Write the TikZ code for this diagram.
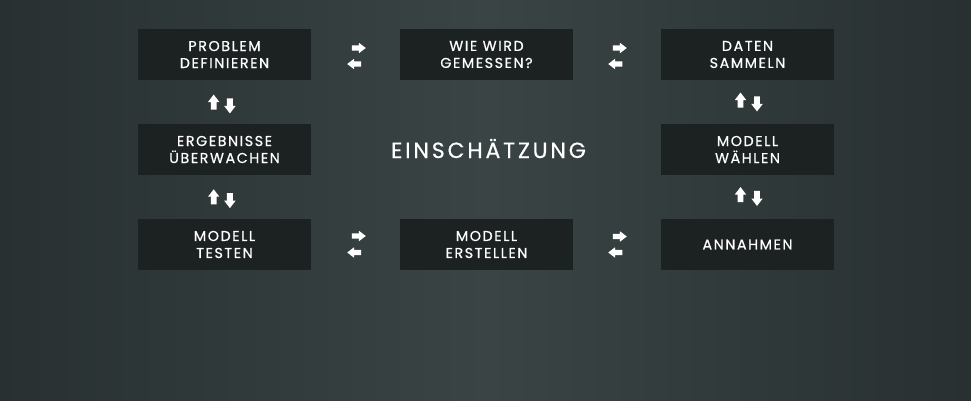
\documentclass[tikz,border=0pt]{standalone}
\usepackage{fontspec}
\setmainfont{Poppins}
\newfontfamily\gotham[BoldFont=Poppins,BoldFeatures={FakeBold=0.6},LetterSpace=11]{Poppins}
\newfontfamily\gothamtitel[BoldFont=Poppins,BoldFeatures={FakeBold=0.4},LetterSpace=13]{Poppins}
\usetikzlibrary{shapes.arrows}
\definecolor{bgside}{HTML}{283031}
\definecolor{bgmid}{HTML}{3A4445}
\definecolor{boxfill}{HTML}{1C2122}
\tikzset{
	stage/.style={fill=boxfill,minimum width=173pt,minimum height=51pt,inner sep=0pt,
		text=white,align=center,font=\gotham\bfseries\fontsize{14.3}{17}\selectfont},
	blk/.style={single arrow,fill=white,draw=none,inner xsep=0pt,text height=0pt,text depth=0pt,
		single arrow tip angle=75,single arrow head indent=0pt},
	harr/.style={blk,inner ysep=2.5pt,single arrow head extend=2.5pt,minimum height=14pt},
	varr/.style={blk,inner ysep=2.75pt,single arrow head extend=2.75pt,minimum height=15pt}
}
\begin{document}
\begin{tikzpicture}[x=1pt,y=-1pt]
		\useasboundingbox (0,0) rectangle (971,400);
		\shade[left color=bgside,right color=bgside,middle color=bgmid] (0,0) rectangle (971,400);
		% stages
		\node[stage] (prob) at (224.5,54.5) {PROBLEM\\DEFINIEREN};
		\node[stage] (mess) at (486.5,54.5) {WIE WIRD\\GEMESSEN?};
		\node[stage] (daten) at (747.5,54.5) {DATEN\\SAMMELN};
		\node[stage] (ueberw) at (224.5,149.5) {ERGEBNISSE\\ÜBERWACHEN};
		\node[stage] (wahl) at (747.5,149.5) {MODELL\\WÄHLEN};
		\node[stage] (test) at (224.5,244.5) {MODELL\\TESTEN};
		\node[stage] (erst) at (486.5,244.5) {MODELL\\ERSTELLEN};
		\node[stage] (annahm) at (747.5,244.5) {ANNAHMEN};
		\node[text=white,font=\gothamtitel\bfseries\fontsize{22}{24}\selectfont] (titel) at (488.5,148.5) {EINSCHÄTZUNG};
		% horizontal arrows
		\node[harr] (r1) at (357,48) {};
		\node[harr,rotate=180] (l1) at (356,64) {};
		\node[harr] (r2) at (618,48) {};
		\node[harr,rotate=180] (l2) at (617,64) {};
		\node[harr] (r3) at (357,236) {};
		\node[harr,rotate=180] (l3) at (356,252.5) {};
		\node[harr] (r4) at (618,236.5) {};
		\node[harr,rotate=180] (l4) at (617,252.5) {};
		% vertical arrows
		\node[varr,rotate=90] (u1) at (213.7,104) {};
		\node[varr,rotate=-90] (d1) at (229.9,104) {};
		\node[varr,rotate=90] (u2) at (213.7,198.7) {};
		\node[varr,rotate=-90] (d2) at (229.9,198.7) {};
		\node[varr,rotate=90] (u3) at (740.5,102) {};
		\node[varr,rotate=-90] (d3) at (757,102) {};
		\node[varr,rotate=90] (u4) at (740.5,196.5) {};
		\node[varr,rotate=-90] (d4) at (757,196.5) {};
\end{tikzpicture}
\end{document}
